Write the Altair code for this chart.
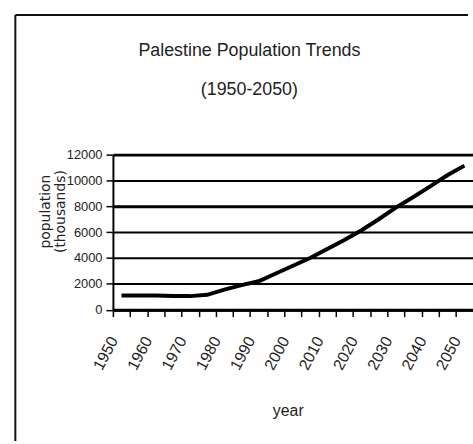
import altair as alt
import pandas as pd

# Palestine population, thousands, every five years
years = [1950, 1955, 1960, 1965, 1970, 1975, 1980, 1985, 1990, 1995, 2000,
         2005, 2010, 2015, 2020, 2025, 2030, 2035, 2040, 2045, 2050]
population = [1100, 1100, 1100, 1050, 1050, 1150, 1550, 1900, 2200, 2800, 3400,
              4000, 4700, 5400, 6150, 7000, 7900, 8700, 9550, 10400, 11150]

y_ticks = [0, 2000, 4000, 6000, 8000, 10000, 12000]
# tick marks sit between the five-year categories, labels every ten years
x_marks = [1947.5 + 2.5 * k for k in range(42)]

title_lines = ["Palestine Population Trends", "(1950-2050)"]
y_title = ["population", "(thousands)"]
x_title = "year"

df = pd.DataFrame({"year": years, "population": population})

SANS = "Liberation Sans, Arial, sans-serif"
W, H = 359.5, 156.5

x_enc = alt.X(
    "year:Q",
    scale=alt.Scale(domain=[1947.5, 2052.5], range=[0, 363.5], nice=False, zero=False),
    axis=alt.Axis(
        values=x_marks,
        labelExpr="datum.value % 10 == 0 ? format(datum.value, 'd') : ''",
        labelAngle=-62,
        labelAlign="right",
        labelBaseline="middle",
        labelFont=SANS,
        labelFontSize=16,
        labelColor="#222",
        labelPadding=21,
        labelOffset=-8,
        labelOverlap=False,
        labelFlush=False,
        labelBound=False,
        tickColor="black",
        tickWidth=1.5,
        tickSize=7,
        tickOpacity={"condition": {"test": "datum.value % 5 == 2.5", "value": 1}, "value": 0},
        domainColor="black",
        domainWidth=3,
        grid=False,
        title=x_title,
        titleFont=SANS,
        titleFontSize=16,
        titleFontWeight="normal",
        titleColor="#222",
        titleX=176.5,
        titleY=106.5,
        titleBaseline="alphabetic",
        titleAlign="center",
    ),
)

y_enc = alt.Y(
    "population:Q",
    scale=alt.Scale(domain=[0, 12000], nice=False),
    axis=alt.Axis(
        values=y_ticks,
        format="d",
        labelFont=SANS,
        labelFontSize=13,
        labelColor="#222",
        labelPadding=4,
        tickColor="black",
        tickWidth=1.5,
        tickSize=7,
        domainColor="black",
        domainWidth=2,
        grid=True,
        gridColor="black",
        gridOpacity=1,
        gridWidth={"condition": {"test": "datum.value == 8000 || datum.value == 12000", "value": 3}, "value": 2},
        title=y_title,
        titleFont="DejaVu Sans",
        titleFontSize=14,
        titleFontWeight="normal",
        titleColor="#222",
        titleAngle=-90,
        titleX=-68,
        titleY=57,
        titleBaseline="middle",
        titleAlign="center",
        titleLineHeight=15,
    ),
)

line = alt.Chart(df).mark_line(color="black", strokeWidth=4).encode(x=x_enc, y=y_enc)

# outer chart frame: left and top edges
frame_src = alt.Data(values=[{"edge": 0}])
frame_left = alt.Chart(frame_src).mark_rule(color="#111", strokeWidth=2).encode(
    x=alt.value(-98.5), y=alt.value(-141), y2=alt.value(289)
)
frame_top = alt.Chart(frame_src).mark_rule(color="#111", strokeWidth=2).encode(
    x=alt.value(-98.5), x2=alt.value(W - 1), y=alt.value(-141)
)

chart = (
    alt.layer(frame_left, frame_top, line)
    .properties(
        width=W,
        height=H,
        title=alt.TitleParams(
            text=title_lines,
            font=SANS,
            fontSize=18,
            fontWeight="normal",
            color="#222",
            anchor="middle",
            dx=-42,
            lineHeight=40,
            offset=-86,
        ),
        autosize=alt.AutoSizeParams(type="pad"),
        padding={"left": 14, "top": 12, "right": 0, "bottom": 0},
        background="white",
    )
    .configure_view(strokeWidth=0)
)

chart.save("out.html", embed_options={"renderer": "svg", "actions": False})
